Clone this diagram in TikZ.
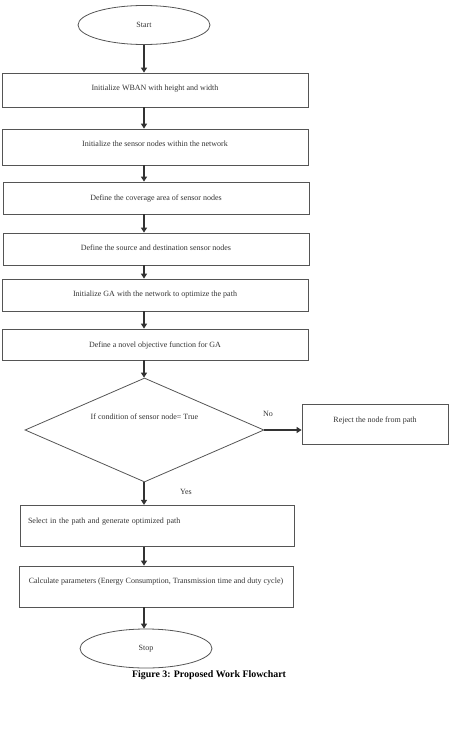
\documentclass[tikz,border=0pt]{standalone}
\usepackage{fontspec}
\setmainfont{Liberation Serif}
\usetikzlibrary{arrows.meta}
\usetikzlibrary{shapes.geometric}
\usetikzlibrary{positioning}
\definecolor{edge}{HTML}{555555}
\definecolor{ink}{HTML}{333333}
\tikzset{
  proc/.style = {draw = edge, line width = 0.8pt, rectangle, inner sep = 0,
                 minimum width = 306, minimum height = 32, text height = 5pt},
  term/.style = {draw = edge, line width = 0.8pt, ellipse, inner sep = 0,
                 minimum width = 132, minimum height = 39},
  cond/.style = {draw = edge, line width = 0.8pt, diamond, aspect = 2.3, inner sep = 0,
                 minimum width = 239, minimum height = 104, text height = 5pt},
  lift/.style = {text depth = #1},
  arr/.style  = {draw = ink, line width = 1.3pt, -{Triangle[length=5pt, width=6pt]}},
  txt/.style  = {text = ink, font = \fontsize{8}{9.5}\selectfont}
}

\begin{document}
\begin{tikzpicture}[x = 1pt, y = -1pt, every node/.style = {txt}]
      \useasboundingbox (0, 0) rectangle (449, 733);

      \node [term] (start) at (144, 25) {Start};

      \node [proc, minimum height = 34, lift = 4pt] (init) at (155, 90) {Initialize WBAN with height and width};
      \node [proc, minimum height = 36, lift = 6pt] (sens) at (155, 147) {Initialize the sensor nodes within the network};
      \node [proc, lift = 0pt] (cov) at (156, 198) {Define the coverage area of sensor nodes};
      \node [proc, lift = 2pt] (srcdst) at (156, 249) {Define the source and destination sensor nodes};
      \node [proc, lift = 1.5pt] (ga) at (155, 295) {Initialize GA with the network to optimize the path};
      \node [proc, minimum height = 31, lift = 0pt] (obj) at (155, 344.5) {Define a novel objective function for GA};

      \node [cond, lift = 26pt] (check) at (144.5, 430) {If condition of sensor node= True};
      \node [proc, minimum width = 146, minimum height = 40, lift = 8.6pt] (reject) at (375, 424.3) {Reject the node from path};

      \node [proc, minimum width = 274, minimum height = 41, lift = 9pt,
             text width = 258, align = left] (select) at (157, 525.8) {Select in the path and generate optimized path};
      \node [proc, minimum width = 274, minimum height = 41, lift = 10.4pt] (calc) at (156, 586.5)
            {Calculate parameters (Energy Consumption, Transmission time and duty cycle)};

      \node [term] (stop) at (146, 648.5) {Stop};

      \node (no) at (268, 414) {No};
      \node (yes) at (186, 492) {Yes};
      \node [font = \fontsize{9.9}{11}\selectfont\bfseries, text = black] (cap) at (209, 675)
            {Figure 3: Proposed Work Flowchart};

      % main column
      \draw [arr] (start) -- (start |- init.north);
      \draw [arr] (init.south -| start) -- (sens.north -| start);
      \draw [arr] (sens.south -| start) -- (cov.north -| start);
      \draw [arr] (cov.south -| start) -- (srcdst.north -| start);
      \draw [arr] (srcdst.south -| start) -- (ga.north -| start);
      \draw [arr] (ga.south -| start) -- (obj.north -| start);
      \draw [arr] (obj.south -| start) -- (check.north -| start);
      \draw [arr] (check.south -| start) -- (select.north -| start);
      \draw [arr] (select.south -| start) -- (calc.north -| start);
      \draw [arr] (calc.south -| start) -- (stop.north -| start);

      % branch
      \draw [arr] (check.east) -- (reject.west |- check.east);
    \end{tikzpicture}
\end{document}
